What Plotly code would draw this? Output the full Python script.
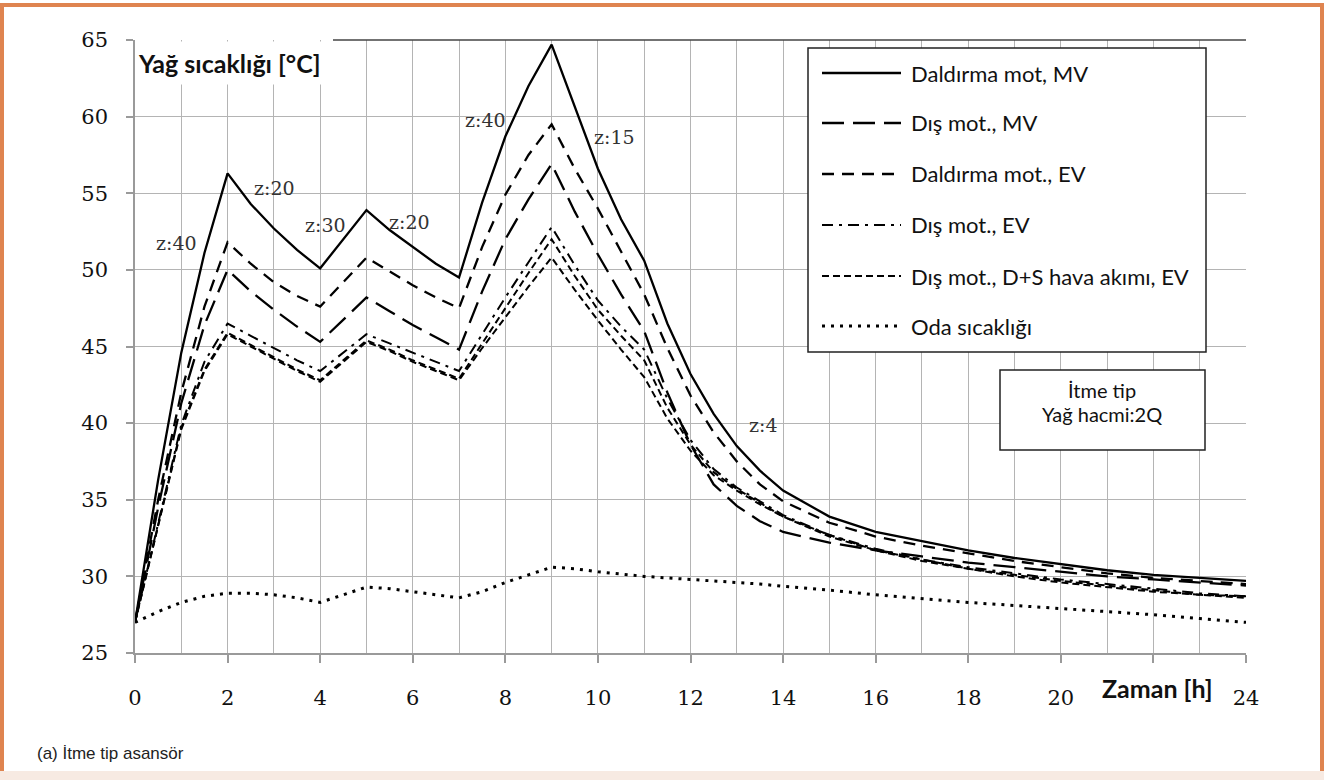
import plotly.graph_objects as go

# ---------------- data ----------------
hours = [0, 0.5, 1, 1.5, 2, 2.5, 3, 3.5, 4, 5, 5.5, 6, 6.5, 7, 7.5, 8, 8.5, 9, 9.5, 10,
         10.5, 11, 11.5, 12, 12.5, 13, 13.5, 14, 15, 16, 17, 18, 19, 20, 21, 22, 23, 24]

daldirma_mv = [27.0, 36.3, 44.6, 51.1, 56.3, 54.3, 52.7, 51.3, 50.1, 53.9, 52.6, 51.5, 50.4, 49.5,
               54.4, 58.7, 62.0, 64.7, 60.7, 56.6, 53.3, 50.6, 46.5, 43.2, 40.6, 38.5, 36.9, 35.6,
               33.9, 32.9, 32.3, 31.7, 31.2, 30.8, 30.4, 30.1, 29.9, 29.7]
dis_mv = [27.0, 34.5, 41.3, 46.4, 50.0, 48.6, 47.4, 46.3, 45.3, 48.2, 47.3, 46.4, 45.6, 44.8,
          48.6, 52.0, 54.6, 56.9, 53.8, 51.0, 48.4, 46.0, 42.0, 38.6, 36.0, 34.6, 33.6, 32.9,
          32.2, 31.7, 31.3, 30.9, 30.6, 30.3, 30.0, 29.8, 29.6, 29.4]
daldirma_ev = [27.0, 35.0, 42.0, 47.6, 51.8, 50.4, 49.2, 48.3, 47.6, 50.8, 49.9, 49.0, 48.2, 47.5,
               51.5, 54.9, 57.5, 59.5, 56.6, 54.0, 51.2, 48.4, 44.9, 41.8, 39.4, 37.5, 36.0, 34.9,
               33.5, 32.6, 32.0, 31.5, 31.0, 30.6, 30.2, 29.9, 29.7, 29.5]
dis_ev = [27.0, 33.5, 39.9, 44.0, 46.5, 45.7, 44.9, 44.1, 43.4, 45.8, 45.2, 44.6, 44.0, 43.4,
          45.8, 48.2, 50.5, 52.8, 50.3, 48.0, 46.3, 44.8, 41.6, 38.9, 37.0, 35.8, 34.9, 34.0,
          32.7, 31.8, 31.1, 30.6, 30.2, 29.8, 29.5, 29.2, 28.9, 28.7]
dis_ds_ev = [27.0, 33.3, 39.7, 43.5, 45.9, 45.1, 44.3, 43.5, 42.8, 45.4, 44.8, 44.1, 43.5, 42.9,
             45.2, 47.5, 49.8, 52.0, 49.6, 47.4, 45.7, 44.1, 41.0, 38.6, 36.8, 35.7, 34.8, 33.9,
             32.7, 31.7, 31.1, 30.5, 30.1, 29.7, 29.4, 29.1, 28.8, 28.7]
extra_curve = [27.0, 33.2, 39.6, 43.4, 45.8, 45.0, 44.2, 43.4, 42.7, 45.3, 44.7, 44.0, 43.4, 42.8,
               44.9, 46.9, 48.9, 50.8, 48.7, 46.7, 44.8, 43.0, 40.3, 38.2, 36.6, 35.6, 34.7, 33.9,
               32.6, 31.7, 31.0, 30.5, 30.0, 29.6, 29.3, 29.0, 28.8, 28.6]
oda = [27.0, 27.7, 28.3, 28.7, 28.9, 28.9, 28.8, 28.6, 28.3, 29.3, 29.2, 29.0, 28.8, 28.6,
       29.0, 29.6, 30.1, 30.6, 30.5, 30.3, 30.15, 30.0, 29.9, 29.8, 29.7, 29.6, 29.5, 29.35,
       29.1, 28.8, 28.55, 28.3, 28.1, 27.9, 27.7, 27.5, 27.25, 27.0]

series_names = ["Daldırma mot, MV", "Dış mot., MV", "Daldırma mot., EV", "Dış mot., EV",
                "Dış mot., D+S hava akımı, EV", "Oda sıcaklığı"]
series_values = [daldirma_mv, dis_mv, daldirma_ev, dis_ev, dis_ds_ev, oda]
series_dash = ["solid", "22px,9px", "12px,8px", "11px,6px,3px,6px", "7px,4px", "3px,6px"]
series_width = [2.3, 2.3, 2.3, 2.0, 2.0, 3.0]

x_ticks = [0, 2, 4, 6, 8, 10, 12, 14, 16, 18, 20, 22, 24]
x_ticktext = ["0", "2", "4", "6", "8", "10", "12", "14", "16", "18", "20", "", "24"]
y_ticks = [25, 30, 35, 40, 45, 50, 55, 60, 65]

z_labels = ["z:40", "z:20", "z:30", "z:20", "z:40", "z:15", "z:4"]

# ---------------- layout helpers ----------------
W, H = 1324, 780
L, R, T, B = 135, 1246, 40, 653


def fx(px):
    return (px - L) / (R - L)


def fy(py):
    return (B - py) / (B - T)


fig = go.Figure()

for name, vals, dash, w in zip(series_names, series_values, series_dash, series_width):
    fig.add_trace(go.Scatter(x=hours, y=vals, mode="lines", name=name, showlegend=False,
                             line=dict(color="black", width=w, dash=dash)))
fig.add_trace(go.Scatter(x=hours, y=extra_curve, mode="lines", showlegend=False,
                         line=dict(color="black", width=2.0, dash="7px,4px")))

shapes = []
annotations = []

# orange frame
orange = "#DF8450"
shapes += [
    dict(type="rect", xref="paper", yref="paper", x0=fx(0), x1=fx(W), y0=fy(3), y1=fy(7),
         fillcolor=orange, line=dict(width=0), layer="above"),
    dict(type="rect", xref="paper", yref="paper", x0=fx(0), x1=fx(4), y0=fy(3), y1=fy(771),
         fillcolor=orange, line=dict(width=0), layer="above"),
    dict(type="rect", xref="paper", yref="paper", x0=fx(1320), x1=fx(W), y0=fy(3), y1=fy(771),
         fillcolor=orange, line=dict(width=0), layer="above"),
    dict(type="rect", xref="paper", yref="paper", x0=fx(0), x1=fx(W), y0=fy(771), y1=fy(780),
         fillcolor="#F7EAE2", line=dict(width=0), layer="above"),
]

# top dark line of plot area
shapes.append(dict(type="line", xref="paper", yref="paper", x0=fx(333), x1=1, y0=1, y1=1,
                   line=dict(color="#444444", width=1.5), layer="above"))

# legend box
shapes.append(dict(type="rect", xref="paper", yref="paper", x0=fx(808), x1=fx(1206),
                   y0=fy(352), y1=fy(48), fillcolor="white",
                   line=dict(color="#222222", width=1.5), layer="above"))
rows = [73, 123, 174, 225, 276, 326]
for name, dash, w, ry in zip(series_names, series_dash, series_width, rows):
    shapes.append(dict(type="line", xref="paper", yref="paper", x0=fx(822), x1=fx(901),
                       y0=fy(ry), y1=fy(ry), line=dict(color="black", width=w, dash=dash),
                       layer="above"))
    annotations.append(dict(xref="paper", yref="paper", x=fx(909), y=fy(ry), text=name,
                            showarrow=False, xanchor="left", yanchor="middle",
                            font=dict(family="Lato", size=22, color="#111111")))

# info box
shapes.append(dict(type="rect", xref="paper", yref="paper", x0=fx(1000), x1=fx(1205),
                   y0=fy(450), y1=fy(370), fillcolor="white",
                   line=dict(color="#222222", width=1.5), layer="above"))
annotations.append(dict(xref="paper", yref="paper", x=fx(1102), y=fy(390), text="İtme tip",
                        showarrow=False, xanchor="center", yanchor="middle",
                        font=dict(family="Lato", size=20, color="#111111")))
annotations.append(dict(xref="paper", yref="paper", x=fx(1102), y=fy(414), text="Yağ hacmi:2Q",
                        showarrow=False, xanchor="center", yanchor="middle",
                        font=dict(family="Lato", size=20, color="#111111")))

# y axis title (white box covering grid)
annotations.append(dict(xref="paper", yref="paper", x=fx(136), y=fy(41), text="<b>Yağ sıcaklığı [°C]</b>",
                        showarrow=False, xanchor="left", yanchor="top", bgcolor="white",
                        width=196, height=40, align="left", valign="middle",
                        font=dict(family="Lato", size=25, color="#111111")))

# x axis title
annotations.append(dict(xref="paper", yref="paper", x=fx(1157), y=fy(688), text="<b>Zaman [h]</b>",
                        showarrow=False, xanchor="center", yanchor="middle",
                        font=dict(family="Lato", size=25, color="#111111")))

# z labels
z_pos = [(176, 243), (274, 188), (325, 225), (409, 222), (486, 120), (614, 137), (763, 425)]
for txt, (zx, zy) in zip(z_labels, z_pos):
    annotations.append(dict(xref="paper", yref="paper", x=fx(zx), y=fy(zy), text=txt,
                            showarrow=False, xanchor="center", yanchor="middle",
                            font=dict(family="DejaVu Serif", size=19, color="#333333")))

# caption
annotations.append(dict(xref="paper", yref="paper", x=fx(35), y=fy(753), text="(a) İtme tip asansör",
                        showarrow=False, xanchor="left", yanchor="middle",
                        font=dict(family="Liberation Sans", size=17, color="#222222")))

fig.update_layout(
    width=W, height=H, autosize=False,
    margin=dict(l=L, r=W - R, t=T, b=H - B, pad=0),
    paper_bgcolor="white", plot_bgcolor="white",
    showlegend=False,
    shapes=shapes, annotations=annotations,
    xaxis=dict(range=[0, 24], tickmode="array", tickvals=x_ticks, ticktext=x_ticktext,
               showgrid=True, gridcolor="#B4B4B4", gridwidth=1,
               minor=dict(dtick=1, tick0=0, showgrid=True, gridcolor="#B4B4B4", gridwidth=1),
               showline=True, linecolor="#9A9A9A", linewidth=1.5,
               ticks="outside", ticklen=8, tickcolor="#9A9A9A", tickwidth=1.5,
               ticklabelstandoff=17,
               tickfont=dict(family="DejaVu Serif", size=21, color="#111111"),
               zeroline=False, fixedrange=True),
    yaxis=dict(range=[25, 65], tickmode="array", tickvals=y_ticks,
               showgrid=True, gridcolor="#B4B4B4", gridwidth=1,
               showline=True, linecolor="#9A9A9A", linewidth=1.5,
               ticks="outside", ticklen=7, tickcolor="#9A9A9A", tickwidth=1.5,
               ticklabelstandoff=14,
               tickfont=dict(family="DejaVu Serif", size=21, color="#111111"),
               zeroline=False, fixedrange=True),
)

fig.write_html("out.html", config={"displayModeBar": False},
               post_script="document.body.style.margin='0px';")
